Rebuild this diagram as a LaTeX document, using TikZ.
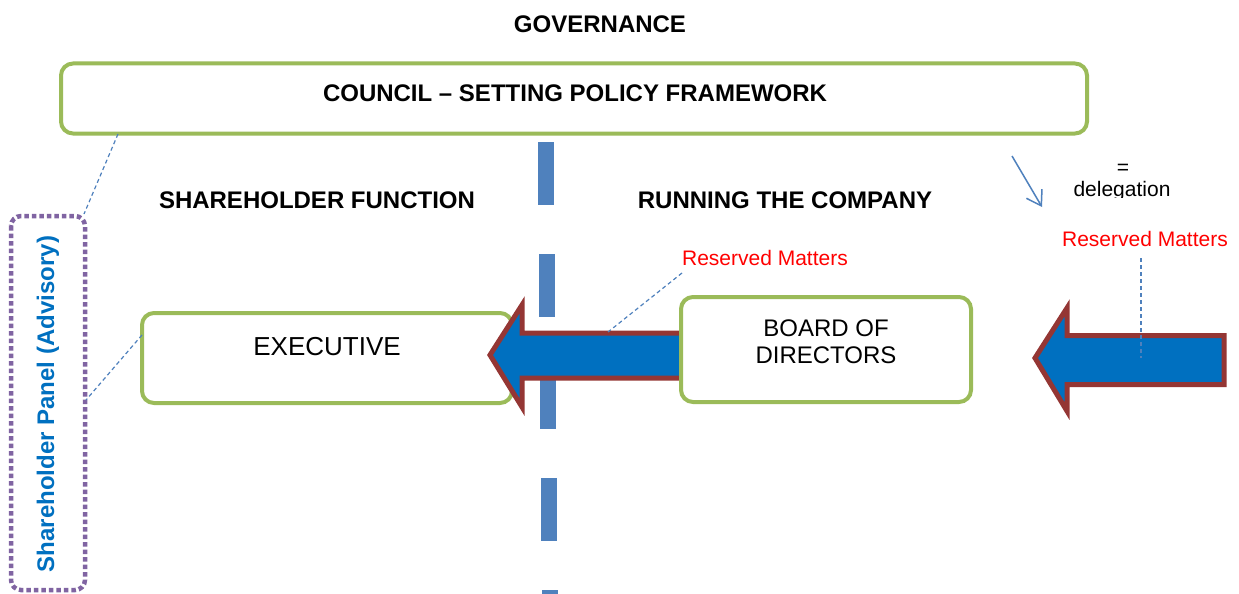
\documentclass[tikz,border=0pt]{standalone}
\usepackage{fontspec}
\setmainfont{Liberation Sans}
\usetikzlibrary{arrows.meta}
\definecolor{boxgreen}{HTML}{9BBB59}
\definecolor{panelpurple}{HTML}{8064A2}
\definecolor{dashblue}{HTML}{4F81BD}
\definecolor{arrowblue}{HTML}{0070C0}
\definecolor{arrowbrown}{HTML}{943634}
\definecolor{paneltextblue}{HTML}{0070C0}
\tikzset{
  greenbox/.style={draw=boxgreen, line width=4pt, rounded corners=12pt, fill=white, inner sep=0pt},
  headtext/.style={font=\fontsize{24}{28}\selectfont\bfseries, inner sep=0pt, anchor=base},
  plaintext/.style={font=\fontsize{24}{27}\selectfont, inner sep=0pt, anchor=base, align=center},
  redtext/.style={font=\fontsize{21}{24}\selectfont, text=red, inner sep=0pt, anchor=base},
  thindash/.style={draw=dashblue, line width=1.2pt, dash pattern=on 4pt off 3pt},
  blockarrow/.style={fill=arrowblue, draw=arrowbrown, line width=5pt, line join=miter},
  bigdash/.style={draw=dashblue, line width=16pt}
}
\begin{document}
\begin{tikzpicture}[x=1pt,y=-1pt]
\useasboundingbox (0,0) rectangle (1239,594);
\fill[white] (0,0) rectangle (1239,594);

% big dashed divider, drawn dash by dash
\foreach \k in {0,...,4} {
  \draw[bigdash] ({546+\k},{142+112*\k}) -- ({546+\k},{205+112*\k});
}

% titles
\node[headtext] (gov) at (600,33) {GOVERNANCE};
\node[greenbox, minimum width=1026pt, minimum height=70pt] (council) at (574,98.5) {};
\node[headtext] (counciltext) at (575,101) {COUNCIL -- SETTING POLICY FRAMEWORK};
\node[headtext] (shfun) at (317,208) {SHAREHOLDER FUNCTION};
\node[headtext] (runco) at (785,208) {RUNNING THE COMPANY};

% shareholder panel
\draw[draw=panelpurple, line width=4.5pt, dash pattern=on 4.5pt off 3pt, rounded corners=10pt]
  (11,216) rectangle (85,590);
\coordinate (paneltop) at (84,214);
\coordinate (panelright) at (86,400);
\node[rotate=90, font=\fontsize{24}{28}\selectfont\bfseries, text=paneltextblue, inner sep=0pt] (paneltext) at (48,404) {Shareholder Panel (Advisory)};

% executive box
\node[greenbox, minimum width=370pt, minimum height=90pt] (exec) at (327,358) {};
\node[plaintext, font=\fontsize{26}{30}\selectfont] (exectext) at (327,355) {EXECUTIVE};

% connectors to panel
\coordinate (councilfoot) at (118,134);
\draw[thindash] (councilfoot) -- (paneltop);
\coordinate (execleft) at (142,335);
\draw[thindash] (execleft) -- (panelright);

% middle block arrow
\coordinate (mtip) at (490,355);
\draw[blockarrow] (mtip) -- (522,305) -- (522,333) -- (684,333) -- (684,378) -- (522,378) -- (522,407) -- cycle;

% board box
\node[greenbox, minimum width=290pt, minimum height=105pt] (board) at (826,349.5) {};
\node[plaintext] (boardtext1) at (826,336) {BOARD OF};
\node[plaintext] (boardtext2) at (826,363) {DIRECTORS};

% reserved matters (middle)
\node[redtext] (rm1) at (765,265) {Reserved Matters};
\coordinate (rm1foot) at (682,273);
\coordinate (arrowtop) at (608,332);
\draw[thindash] (rm1foot) -- (arrowtop);

% right block arrow
\coordinate (rtip) at (1035,358);
\draw[blockarrow] (rtip) -- (1067,308) -- (1067,335.5) -- (1224,335.5) -- (1224,384.5) -- (1067,384.5) -- (1067,411) -- cycle;

% reserved matters (right)
\node[redtext] (rm2) at (1145,246) {Reserved Matters};
\coordinate (rm2a) at (1141,258);
\coordinate (rm2b) at (1141,358);
\draw[thindash] (rm2a) -- (rm2b);

% delegation legend
\coordinate (dela) at (1012,156);
\coordinate (delb) at (1042,207);
\draw[draw=dashblue, line width=1.5pt, -{Straight Barb[length=14pt,width=18pt,line width=1.5pt]}] (dela) -- (delb);
\begin{scope}
\clip (1060,150) rectangle (1200,197.5);
\node[font=\fontsize{21}{24}\selectfont, inner sep=0pt, anchor=base] (eqsign) at (1123,174) {=};
\node[font=\fontsize{21}{24}\selectfont, inner sep=0pt, anchor=base] (deleg) at (1122,196) {delegation};
\end{scope}
\end{tikzpicture}
\end{document}
